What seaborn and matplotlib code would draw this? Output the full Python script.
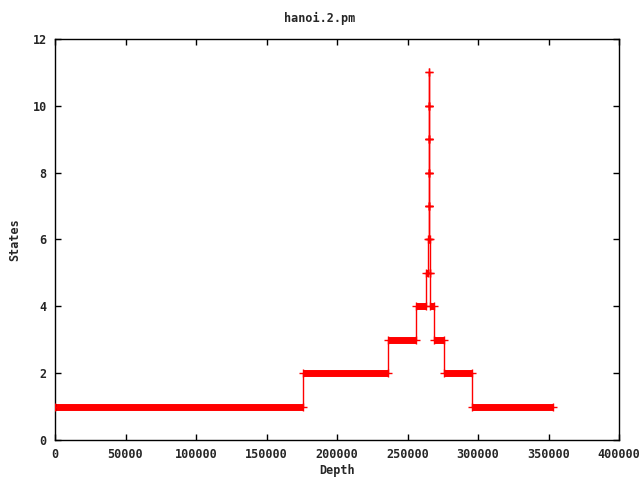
import matplotlib
matplotlib.use("Agg")
import matplotlib.pyplot as plt
import seaborn as sns
import pandas as pd

# step segments: [start depth, end depth] at a given number of states
seg_start = [0, 175700, 236000, 255800, 262900, 264300, 265000, 265100, 265150, 265200,
             265250, 265300, 265350, 265400, 265450, 265500, 266000, 266300, 268500, 275600, 295500]
seg_end = [175700, 236000, 255800, 262900, 264300, 265000, 265100, 265150, 265200, 265250,
           265300, 265350, 265400, 265450, 265500, 266000, 266300, 268500, 275600, 295500, 353200]
seg_states = [1, 2, 3, 4, 5, 6, 7, 8, 9, 10, 11, 10, 9, 8, 7, 6, 5, 4, 3, 2, 1]

X_TICKS = [0, 50000, 100000, 150000, 200000, 250000, 300000, 350000, 400000]
Y_TICKS = [0, 2, 4, 6, 8, 10, 12]

sns.set_theme(style="white")
plt.rcParams['font.family'] = ['DejaVu Sans Mono']
plt.rcParams['font.weight'] = 'bold'

RED = '#ff0000'

# path through the segment ends, as gnuplot would connect them
rows = []
for s, e, v in zip(seg_start, seg_end, seg_states):
    rows.append((s, v))
    rows.append((e, v))
path = pd.DataFrame(rows, columns=['depth', 'states'])
path['order'] = range(len(path))

fig = plt.figure(figsize=(6.4, 4.8), dpi=100)
ax = fig.add_axes([55 / 640, 40 / 480, 564 / 640, 401 / 480])

# dense points make a thick band along each step
ax.hlines(seg_states, seg_start, seg_end, colors=RED, linewidth=5, zorder=2)
sns.lineplot(data=path, x='depth', y='states', sort=False, estimator=None,
             color=RED, linewidth=1, ax=ax, zorder=3)
ax.plot(path['depth'], path['states'], linestyle='none', marker='+',
        markersize=6, markeredgewidth=1, color=RED, zorder=4)

ax.set_xlim(0, 400000)
ax.set_ylim(0, 12)
ax.set_xticks(X_TICKS)
ax.set_yticks(Y_TICKS)
ax.set_xticklabels([str(t) for t in X_TICKS])
ax.set_yticklabels([str(t) for t in Y_TICKS])
ax.tick_params(direction='in', length=4, width=1, color='black',
               top=True, right=True, bottom=True, left=True,
               labelsize=8.5, pad=6)
for sp in ax.spines.values():
    sp.set_color('black')
    sp.set_linewidth(1)
ax.grid(False)

ax.set_xlabel('Depth', fontsize=8.5, fontweight='bold', labelpad=2)
ax.set_ylabel('States', fontsize=8.5, fontweight='bold', labelpad=8)
fig.text(0.5, 1 - 18 / 480, 'hanoi.2.pm', ha='center', va='center',
         fontsize=8.5, fontweight='bold')

fig.savefig('out.png', dpi=100)
